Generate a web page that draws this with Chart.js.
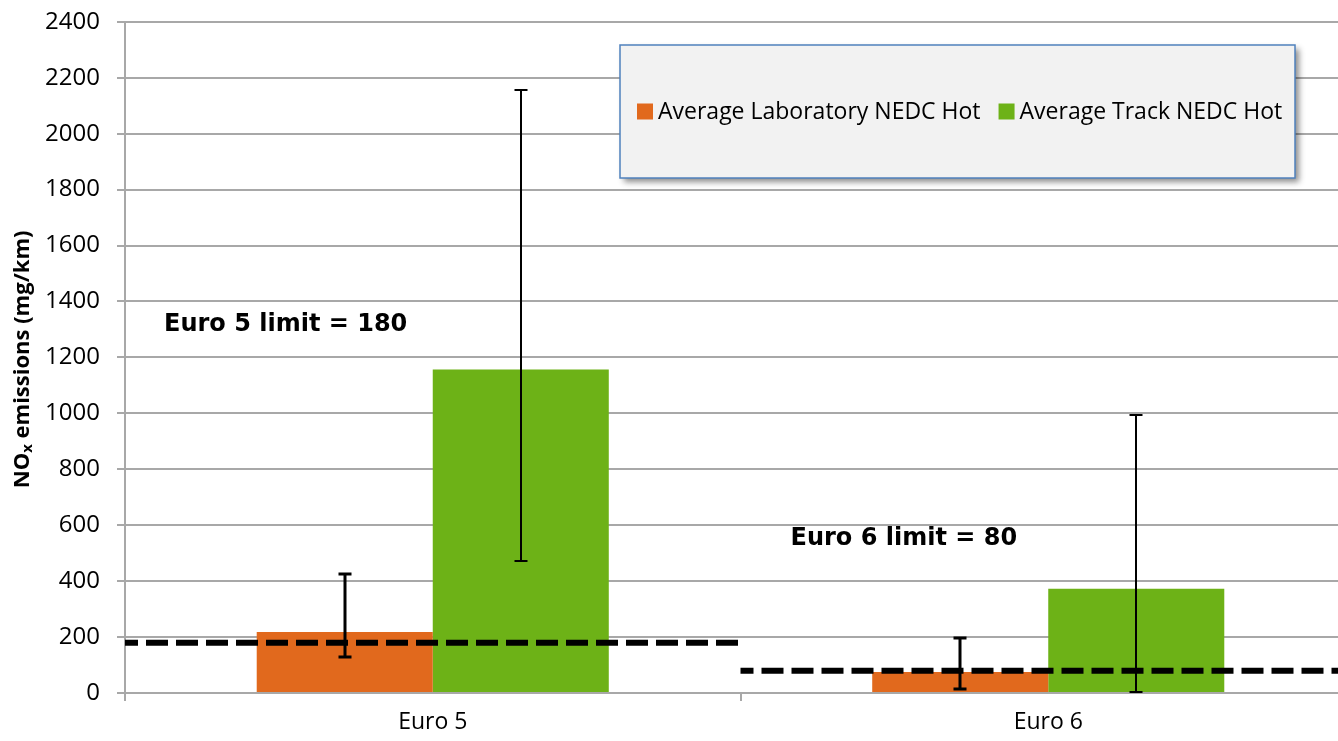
<!DOCTYPE html>
<html>
<head>
<meta charset="utf-8">
<title>NOx emissions</title>
<script src="https://cdn.jsdelivr.net/npm/chart.js@4.4.1/dist/chart.umd.min.js"></script>
<style>
  html, body { margin: 0; padding: 0; background: #fff; overflow: hidden; }
  #wrap { width: 1338px; height: 741px; overflow: hidden; }
  canvas { display: block; }
</style>
</head>
<body>
<div id="wrap"><canvas id="chart" width="1356" height="741"></canvas></div>
<script>
const categories = ["Euro 5", "Euro 6"];
const labValues = [218, 75];
const trackValues = [1157, 373];
const labLow = [130, 14];
const labHigh = [427, 196];
const trackLow = [472, 4];
const trackHigh = [2157, 995];
const limits = [180, 80];
const yTicks = [0, 200, 400, 600, 800, 1000, 1200, 1400, 1600, 1800, 2000, 2200, 2400];

const FONT = "'Open Sans', 'Noto Sans', sans-serif";
const GRID = "#a8a8a8";

// dashed limit lines, error bars and limit notes, all placed via the scales
const errorBars = {
  id: "errorBars",
  afterDatasetsDraw(chart) {
    const ctx = chart.ctx;
    const y = chart.scales.y;
    const x = chart.scales.x;
    const area = chart.chartArea;

    const half = (x.getPixelForValue(1) - x.getPixelForValue(0)) / 2;
    ctx.save();
    ctx.beginPath();
    ctx.rect(area.left, area.top - 10, area.right - area.left, area.bottom - area.top + 20);
    ctx.clip();
    ctx.strokeStyle = "#000";
    ctx.lineWidth = 6;
    ctx.setLineDash([22, 8]);
    limits.forEach((v, i) => {
      const cx = x.getPixelForValue(i);
      const py = y.getPixelForValue(v);
      ctx.lineDashOffset = 9;
      ctx.beginPath();
      ctx.moveTo(cx - half, py);
      ctx.lineTo(cx + half, py);
      ctx.stroke();
    });
    ctx.restore();

    ctx.save();
    ctx.strokeStyle = "#000";
    chart.data.datasets.forEach((ds, i) => {
      const meta = chart.getDatasetMeta(i);
      meta.data.forEach((bar, j) => {
        const top = Math.round(y.getPixelForValue(ds.errHigh[j]));
        const bottom = Math.round(y.getPixelForValue(ds.errLow[j]));
        const cx = Math.round(bar.x);
        ctx.lineWidth = ds.errWidth;
        ctx.beginPath();
        ctx.moveTo(cx, top);
        ctx.lineTo(cx, bottom);
        ctx.moveTo(cx - 6.5, top);
        ctx.lineTo(cx + 6.5, top);
        ctx.moveTo(cx - 6.5, bottom);
        ctx.lineTo(cx + 6.5, bottom);
        ctx.stroke();
      });
    });
    ctx.restore();

    ctx.save();
    ctx.fillStyle = "#000";
    ctx.font = "bold 24px 'DejaVu Sans', Verdana, sans-serif";
    ctx.textBaseline = "middle";
    ctx.textAlign = "left";
    ctx.fillText(`Euro 5 limit = ${limits[0]}`, area.left + 39, y.getPixelForValue(1315));
    ctx.fillText(`Euro 6 limit = ${limits[1]}`, x.getPixelForValue(1) - half + 50, y.getPixelForValue(553));
    ctx.restore();
  }
};

// boxed legend + y title with subscript
const decorations = {
  id: "decorations",
  afterDraw(chart) {
    const ctx = chart.ctx;
    const area = chart.chartArea;

    const bx = 620, by = 45, bw = 675, bh = 133;
    ctx.save();
    ctx.shadowColor = "rgba(0,0,0,0.45)";
    ctx.shadowBlur = 6;
    ctx.shadowOffsetX = 4;
    ctx.shadowOffsetY = 4;
    ctx.fillStyle = "#f2f2f2";
    ctx.fillRect(bx, by, bw, bh);
    ctx.restore();

    ctx.save();
    ctx.strokeStyle = "#4f81bd";
    ctx.lineWidth = 1.5;
    ctx.strokeRect(bx, by, bw, bh);

    ctx.font = `23px ${FONT}`;
    ctx.textBaseline = "middle";
    const cy = by + bh / 2;
    let lx = bx + 17;
    chart.data.datasets.forEach((ds) => {
      ctx.fillStyle = ds.backgroundColor;
      ctx.fillRect(lx, cy - 8, 16, 16);
      ctx.fillStyle = "#000";
      ctx.fillText(ds.label, lx + 21, cy + 1);
      lx += 21 + ctx.measureText(ds.label).width + 18;
    });
    ctx.restore();

    ctx.save();
    ctx.translate(23, (area.top + area.bottom) / 2 + 2);
    ctx.rotate(-Math.PI / 2);
    ctx.fillStyle = "#000";
    ctx.textBaseline = "middle";
    const big = `bold 22px ${FONT}`;
    const small = `bold 15px ${FONT}`;
    const parts = [["NO", big, 0], ["x", small, 5], [" emissions (mg/km)", big, 0]];
    let total = 0;
    parts.forEach(([t, f]) => { ctx.font = f; total += ctx.measureText(t).width; });
    let px = -total / 2;
    parts.forEach(([t, f, dy]) => {
      ctx.font = f;
      ctx.fillText(t, px, dy);
      px += ctx.measureText(t).width;
    });
    ctx.restore();
  }
};

new Chart(document.getElementById("chart"), {
  type: "bar",
  data: {
    labels: categories,
    datasets: [
      {
        label: "Average Laboratory NEDC Hot",
        data: labValues,
        errLow: labLow,
        errHigh: labHigh,
        errWidth: 3,
        backgroundColor: "#e1691d"
      },
      {
        label: "Average Track NEDC Hot",
        data: trackValues,
        errLow: trackLow,
        errHigh: trackHigh,
        errWidth: 2,
        backgroundColor: "#6db217"
      }
    ]
  },
  options: {
    responsive: false,
    animation: false,
    devicePixelRatio: 1,
    categoryPercentage: 0.572,
    barPercentage: 1,
    layout: { padding: { top: 21, left: 0, right: 0, bottom: 0 } },
    plugins: {
      legend: { display: false },
      tooltip: { enabled: false }
    },
    scales: {
      x: {
        grid: {
          offset: true,
          drawOnChartArea: false,
          color: GRID,
          lineWidth: 2,
          tickLength: 8
        },
        border: { color: GRID, width: 2 },
        ticks: {
          color: "#000",
          font: { family: FONT, size: 23 },
          padding: 8
        },
        afterFit(scale) { scale.height = 48; }
      },
      y: {
        min: 0,
        max: 2400,
        grid: { color: GRID, lineWidth: 2, tickLength: 8 },
        border: { color: GRID, width: 2 },
        ticks: {
          color: "#000",
          font: { family: FONT, size: 24, lineHeight: 0.4 },
          padding: 17,
          callback: (v) => String(v)
        },
        afterBuildTicks(scale) {
          scale.ticks = yTicks.map((v) => ({ value: v }));
        },
        afterFit(scale) { scale.width = 125; }
      }
    }
  },
  plugins: [errorBars, decorations]
});
</script>
</body>
</html>
